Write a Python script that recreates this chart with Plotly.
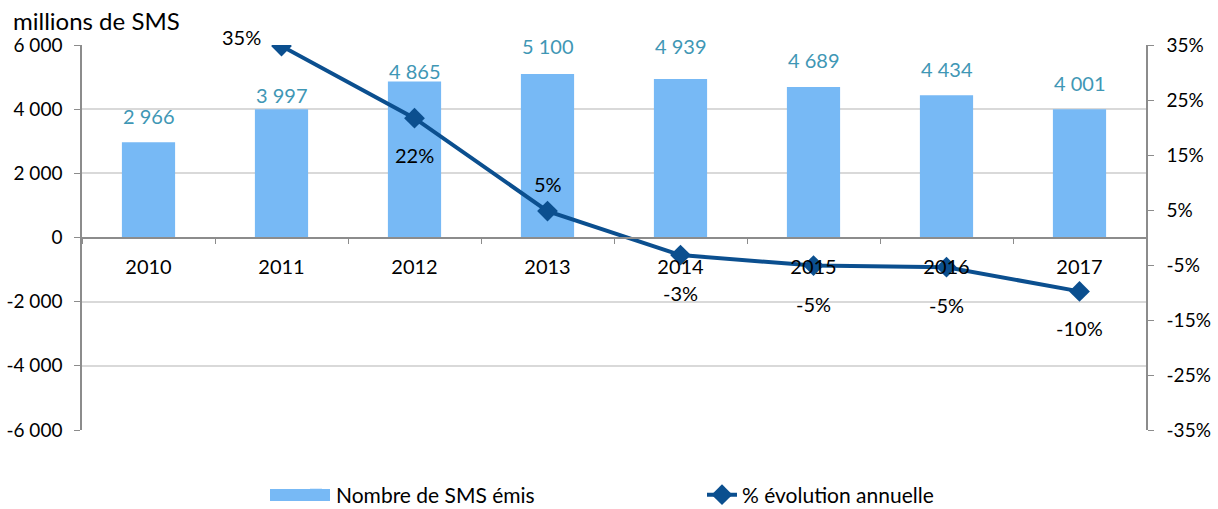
import plotly.graph_objects as go

years = ["2010", "2011", "2012", "2013", "2014", "2015", "2016", "2017"]
sms_millions = [2966, 3997, 4865, 5100, 4939, 4689, 4434, 4001]
growth_pct = [None, 34.8, 21.7, 4.8, -3.2, -5.1, -5.4, -9.8]
growth_labels = [None, "35%", "22%", "5%", "-3%", "-5%", "-5%", "-10%"]

left_ticks = [-6000, -4000, -2000, 0, 2000, 4000, 6000]
right_ticks = [-35, -25, -15, -5, 5, 15, 25, 35]

# label offsets (pixels) - style only
bar_label_shift = [26, 14, 10, 28, 33, 27, 26, 26]
line_label_xshift = [0, -40, 0, 0, 0, 0, 0, 0]
line_label_yshift = [0, 9, -37, 27, -38, -38, -38, -37]

FONT = "Lato, 'Open Sans', sans-serif"
BAR_COL = "#77B9F5"
LINE_COL = "#0B4F8F"
LBL_COL = "#3F97B5"
AXIS_COL = "#8C8C8C"

W, H = 1218, 509
ML, MR, MT, MB = 82, 72, 45, 79
PW, PH = W - ML - MR, H - MT - MB

def fmt_thousands(v):
    s = f"{abs(v):,}".replace(",", " ")
    return ("-" if v < 0 else "") + s

def px_x(x):  # figure pixel -> paper x
    return (x - ML) / PW

def px_y(y):  # figure pixel -> paper y
    return (H - MB - y) / PH

fig = go.Figure()
fig.add_trace(go.Bar(
    x=years, y=sms_millions, name="Nombre de SMS émis",
    marker=dict(color=BAR_COL, line=dict(width=0)),
    yaxis="y", legend="legend",
))
fig.add_trace(go.Scatter(
    x=years, y=growth_pct, name="% évolution annuelle",
    mode="lines+markers", yaxis="y2", legend="legend2",
    line=dict(color=LINE_COL, width=4),
    marker=dict(symbol="diamond", size=16, color=LINE_COL),
))

annotations = []
for i, v in enumerate(sms_millions):
    annotations.append(dict(
        x=i, y=v, xref="x", yref="y", text=fmt_thousands(v),
        showarrow=False, yshift=bar_label_shift[i],
        font=dict(family=FONT, size=20, color=LBL_COL),
    ))
for i, (v, t) in enumerate(zip(growth_pct, growth_labels)):
    if v is None:
        continue
    annotations.append(dict(
        x=i, y=v, xref="x", yref="y2", text=t, showarrow=False,
        xshift=line_label_xshift[i], yshift=line_label_yshift[i],
        font=dict(family=FONT, size=20, color="#000000"),
    ))
annotations.append(dict(
    x=px_x(11), y=px_y(21), xref="paper", yref="paper", text="millions de SMS",
    showarrow=False, xanchor="left", yanchor="middle",
    font=dict(family=FONT, size=24, color="#000000"),
))

shapes = [dict(
    type="rect", xref="paper", yref="paper",
    x0=px_x(270), x1=px_x(330), y0=px_y(489), y1=px_y(501),
    fillcolor=BAR_COL, line=dict(width=0), layer="above",
)]

fig.update_layout(
    width=W, height=H,
    margin=dict(l=ML, r=MR, t=MT, b=MB, autoexpand=False),
    paper_bgcolor="white", plot_bgcolor="white",
    font=dict(family=FONT, size=19, color="#000000"),
    bargap=0.6,
    showlegend=True,
    xaxis=dict(
        type="category", range=[-0.5, 7.5], autorange=False,
        anchor="free", position=0.5,
        showline=True, linecolor=AXIS_COL, linewidth=1.5,
        ticks="outside", tickson="boundaries", ticklen=6, tickcolor=AXIS_COL,
        tickfont=dict(family=FONT, size=20), ticklabelstandoff=12,
        tickangle=0, showgrid=False, zeroline=False,
    ),
    yaxis=dict(
        range=[-6000, 6000], tickvals=left_ticks,
        ticktext=[fmt_thousands(v) for v in left_ticks],
        showline=True, linecolor=AXIS_COL, linewidth=1.5,
        ticks="outside", ticklen=6, tickcolor=AXIS_COL,
        showgrid=True, gridcolor="#D9D9D9", gridwidth=1.5,
        zeroline=False, tickfont=dict(family=FONT, size=19),
        ticklabelstandoff=8,
    ),
    yaxis2=dict(
        range=[-35, 35], overlaying="y", side="right",
        tickvals=right_ticks, ticktext=[f"{v}%" for v in right_ticks],
        showline=True, linecolor=AXIS_COL, linewidth=1.5,
        ticks="outside", ticklen=6, tickcolor=AXIS_COL,
        showgrid=False, zeroline=False, tickfont=dict(family=FONT, size=19),
        ticklabelstandoff=9,
    ),
    legend=dict(
        orientation="h", x=px_x(336) - 40 / PW, y=px_y(495),
        xanchor="left", yanchor="middle",
        font=dict(family=FONT, size=21), bgcolor="rgba(0,0,0,0)",
    ),
    legend2=dict(
        orientation="h", x=px_x(742) - 40 / PW, y=px_y(495),
        xanchor="left", yanchor="middle",
        font=dict(family=FONT, size=21), bgcolor="rgba(0,0,0,0)",
    ),
    annotations=annotations,
    shapes=shapes,
)

fig.write_html(
    "out.html",
    config={"displayModeBar": False},
    post_script="document.body.style.margin='0';document.body.style.overflow='hidden';",
)
